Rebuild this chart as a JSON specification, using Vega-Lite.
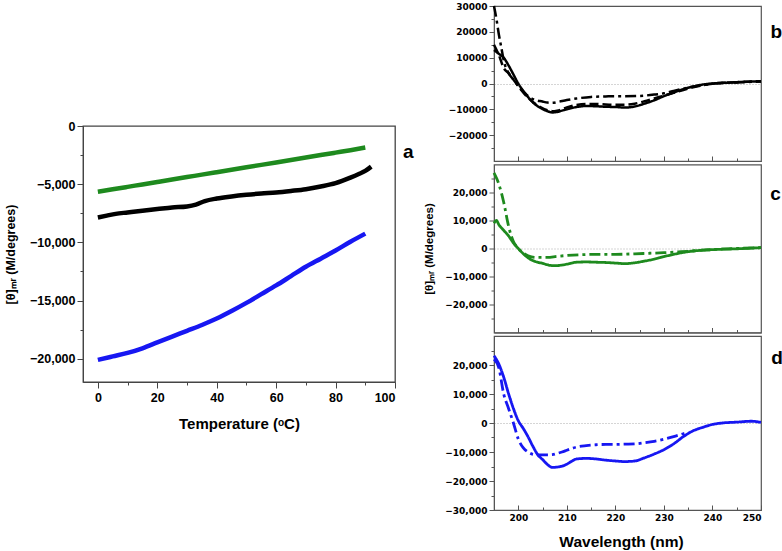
{
  "$schema": "https://vega.github.io/schema/vega-lite/v6.json",
  "background": "white",
  "padding": {"left": 3, "top": 0, "right": 0, "bottom": 0},
  "spacing": 8,
  "config": {
    "font": "Liberation Sans",
    "view": {"stroke": "#555", "strokeWidth": 1.2},
    "axis": {
      "labelFont": "Liberation Sans",
      "labelFontWeight": "bold",
      "titleFont": "Liberation Sans",
      "titleFontWeight": "bold",
      "labelColor": "#000",
      "titleColor": "#000",
      "domainColor": "#555",
      "tickColor": "#555",
      "grid": false
    },
    "title": {"font": "Liberation Sans", "fontWeight": "bold", "fontSize": 19, "color": "#000", "frame": "group"}
  },
  "datasets": {
    "tempA": [
      {"s": "b", "T": 0, "v": -7860}, {"s": "b", "T": 3, "v": -7700}, {"s": "b", "T": 6, "v": -7550}, {"s": "b", "T": 10, "v": -7430},
      {"s": "b", "T": 15, "v": -7280}, {"s": "b", "T": 20, "v": -7140}, {"s": "b", "T": 25, "v": -7000}, {"s": "b", "T": 30, "v": -6910},
      {"s": "b", "T": 33, "v": -6750}, {"s": "b", "T": 36, "v": -6450}, {"s": "b", "T": 40, "v": -6230}, {"s": "b", "T": 45, "v": -6050},
      {"s": "b", "T": 50, "v": -5910}, {"s": "b", "T": 55, "v": -5800}, {"s": "b", "T": 60, "v": -5710}, {"s": "b", "T": 65, "v": -5580},
      {"s": "b", "T": 70, "v": -5430}, {"s": "b", "T": 75, "v": -5200}, {"s": "b", "T": 80, "v": -4910}, {"s": "b", "T": 85, "v": -4430},
      {"s": "b", "T": 88, "v": -4100}, {"s": "b", "T": 90, "v": -3860}, {"s": "b", "T": 92, "v": -3490},
      {"s": "c", "T": 0, "v": -5650}, {"s": "c", "T": 5, "v": -5440}, {"s": "c", "T": 10, "v": -5230}, {"s": "c", "T": 15, "v": -5020},
      {"s": "c", "T": 20, "v": -4810}, {"s": "c", "T": 25, "v": -4600}, {"s": "c", "T": 30, "v": -4390}, {"s": "c", "T": 35, "v": -4180},
      {"s": "c", "T": 40, "v": -3970}, {"s": "c", "T": 45, "v": -3760}, {"s": "c", "T": 50, "v": -3550}, {"s": "c", "T": 55, "v": -3340},
      {"s": "c", "T": 60, "v": -3130}, {"s": "c", "T": 65, "v": -2920}, {"s": "c", "T": 70, "v": -2710}, {"s": "c", "T": 75, "v": -2500},
      {"s": "c", "T": 80, "v": -2290}, {"s": "c", "T": 85, "v": -2080}, {"s": "c", "T": 90, "v": -1850},
      {"s": "d", "T": 0, "v": -20100}, {"s": "d", "T": 5, "v": -19800}, {"s": "d", "T": 10, "v": -19500}, {"s": "d", "T": 15, "v": -19100},
      {"s": "d", "T": 20, "v": -18600}, {"s": "d", "T": 25, "v": -18100}, {"s": "d", "T": 30, "v": -17600}, {"s": "d", "T": 35, "v": -17100},
      {"s": "d", "T": 40, "v": -16550}, {"s": "d", "T": 45, "v": -15900}, {"s": "d", "T": 50, "v": -15200}, {"s": "d", "T": 55, "v": -14450},
      {"s": "d", "T": 60, "v": -13700}, {"s": "d", "T": 65, "v": -12900}, {"s": "d", "T": 70, "v": -12100}, {"s": "d", "T": 75, "v": -11400},
      {"s": "d", "T": 80, "v": -10700}, {"s": "d", "T": 85, "v": -9950}, {"s": "d", "T": 90, "v": -9250}
    ],
    "specB": [
      {"s": "trace 1", "x": 195, "y": 13000}, {"s": "trace 1", "x": 196, "y": 11500}, {"s": "trace 1", "x": 197, "y": 10000}, {"s": "trace 1", "x": 198, "y": 7000},
      {"s": "trace 1", "x": 199, "y": 3500}, {"s": "trace 1", "x": 200, "y": 0}, {"s": "trace 1", "x": 201, "y": -2800}, {"s": "trace 1", "x": 202, "y": -5200},
      {"s": "trace 1", "x": 203, "y": -7300}, {"s": "trace 1", "x": 204, "y": -8800}, {"s": "trace 1", "x": 205, "y": -9900}, {"s": "trace 1", "x": 206, "y": -10700},
      {"s": "trace 1", "x": 207, "y": -11200}, {"s": "trace 1", "x": 208, "y": -11000}, {"s": "trace 1", "x": 209, "y": -10500}, {"s": "trace 1", "x": 210, "y": -10000},
      {"s": "trace 1", "x": 211, "y": -9500}, {"s": "trace 1", "x": 212, "y": -9100}, {"s": "trace 1", "x": 214, "y": -8700}, {"s": "trace 1", "x": 216, "y": -8800},
      {"s": "trace 1", "x": 218, "y": -9000}, {"s": "trace 1", "x": 220, "y": -9100}, {"s": "trace 1", "x": 222, "y": -9300}, {"s": "trace 1", "x": 224, "y": -8900},
      {"s": "trace 1", "x": 226, "y": -7800}, {"s": "trace 1", "x": 228, "y": -6500}, {"s": "trace 1", "x": 230, "y": -4900}, {"s": "trace 1", "x": 232, "y": -3500},
      {"s": "trace 1", "x": 234, "y": -2200}, {"s": "trace 1", "x": 236, "y": -1200}, {"s": "trace 1", "x": 238, "y": -400}, {"s": "trace 1", "x": 240, "y": 0},
      {"s": "trace 1", "x": 245, "y": 500}, {"s": "trace 1", "x": 250, "y": 900},
      {"s": "trace 2", "x": 195, "y": 15000}, {"s": "trace 2", "x": 196, "y": 11000}, {"s": "trace 2", "x": 197, "y": 6000}, {"s": "trace 2", "x": 198, "y": 4000},
      {"s": "trace 2", "x": 199, "y": 1500}, {"s": "trace 2", "x": 200, "y": -1000}, {"s": "trace 2", "x": 202, "y": -5500}, {"s": "trace 2", "x": 204, "y": -8500},
      {"s": "trace 2", "x": 206, "y": -10300}, {"s": "trace 2", "x": 207, "y": -10700}, {"s": "trace 2", "x": 208, "y": -10500}, {"s": "trace 2", "x": 210, "y": -9300},
      {"s": "trace 2", "x": 212, "y": -8300}, {"s": "trace 2", "x": 214, "y": -7900}, {"s": "trace 2", "x": 216, "y": -7900}, {"s": "trace 2", "x": 218, "y": -8100},
      {"s": "trace 2", "x": 220, "y": -8200}, {"s": "trace 2", "x": 222, "y": -8200}, {"s": "trace 2", "x": 224, "y": -7800}, {"s": "trace 2", "x": 226, "y": -6900},
      {"s": "trace 2", "x": 228, "y": -5800}, {"s": "trace 2", "x": 230, "y": -4700}, {"s": "trace 2", "x": 232, "y": -3600}, {"s": "trace 2", "x": 234, "y": -2500},
      {"s": "trace 2", "x": 236, "y": -1500}, {"s": "trace 2", "x": 238, "y": -700}, {"s": "trace 2", "x": 240, "y": -100}, {"s": "trace 2", "x": 245, "y": 500},
      {"s": "trace 2", "x": 250, "y": 900},
      {"s": "trace 3", "x": 195, "y": 30000}, {"s": "trace 3", "x": 195.5, "y": 25000}, {"s": "trace 3", "x": 196, "y": 19000}, {"s": "trace 3", "x": 196.5, "y": 14000},
      {"s": "trace 3", "x": 197, "y": 9000}, {"s": "trace 3", "x": 198, "y": 4000}, {"s": "trace 3", "x": 199, "y": 1500}, {"s": "trace 3", "x": 200, "y": -1000},
      {"s": "trace 3", "x": 201, "y": -3000}, {"s": "trace 3", "x": 202, "y": -4800}, {"s": "trace 3", "x": 203, "y": -6000}, {"s": "trace 3", "x": 205, "y": -7000},
      {"s": "trace 3", "x": 206, "y": -7400}, {"s": "trace 3", "x": 207, "y": -7500}, {"s": "trace 3", "x": 208, "y": -7200}, {"s": "trace 3", "x": 210, "y": -6400},
      {"s": "trace 3", "x": 212, "y": -5800}, {"s": "trace 3", "x": 215, "y": -5200}, {"s": "trace 3", "x": 218, "y": -5000}, {"s": "trace 3", "x": 220, "y": -4900},
      {"s": "trace 3", "x": 222, "y": -4900}, {"s": "trace 3", "x": 225, "y": -4800}, {"s": "trace 3", "x": 228, "y": -4300}, {"s": "trace 3", "x": 230, "y": -3800},
      {"s": "trace 3", "x": 232, "y": -2900}, {"s": "trace 3", "x": 234, "y": -2000}, {"s": "trace 3", "x": 236, "y": -1200}, {"s": "trace 3", "x": 238, "y": -600},
      {"s": "trace 3", "x": 240, "y": -100}, {"s": "trace 3", "x": 245, "y": 400}, {"s": "trace 3", "x": 250, "y": 800}
    ],
    "specC": [
      {"s": "trace 1", "x": 195, "y": 9000}, {"s": "trace 1", "x": 195.5, "y": 10000}, {"s": "trace 1", "x": 196, "y": 8500}, {"s": "trace 1", "x": 197, "y": 6500},
      {"s": "trace 1", "x": 198, "y": 4500}, {"s": "trace 1", "x": 199, "y": 2000}, {"s": "trace 1", "x": 200, "y": 0}, {"s": "trace 1", "x": 201, "y": -1800},
      {"s": "trace 1", "x": 202, "y": -3300}, {"s": "trace 1", "x": 203, "y": -4300}, {"s": "trace 1", "x": 204, "y": -4900}, {"s": "trace 1", "x": 205, "y": -5300},
      {"s": "trace 1", "x": 206, "y": -5800}, {"s": "trace 1", "x": 207, "y": -6100}, {"s": "trace 1", "x": 208, "y": -6100}, {"s": "trace 1", "x": 209, "y": -5900},
      {"s": "trace 1", "x": 210, "y": -5600}, {"s": "trace 1", "x": 211, "y": -5200}, {"s": "trace 1", "x": 212, "y": -4900}, {"s": "trace 1", "x": 214, "y": -4800},
      {"s": "trace 1", "x": 216, "y": -4900}, {"s": "trace 1", "x": 218, "y": -5000}, {"s": "trace 1", "x": 220, "y": -5200}, {"s": "trace 1", "x": 222, "y": -5400},
      {"s": "trace 1", "x": 224, "y": -5100}, {"s": "trace 1", "x": 226, "y": -4500}, {"s": "trace 1", "x": 228, "y": -3800}, {"s": "trace 1", "x": 230, "y": -2900},
      {"s": "trace 1", "x": 232, "y": -2100}, {"s": "trace 1", "x": 234, "y": -1400}, {"s": "trace 1", "x": 236, "y": -900}, {"s": "trace 1", "x": 238, "y": -600},
      {"s": "trace 1", "x": 240, "y": -400}, {"s": "trace 1", "x": 245, "y": -100}, {"s": "trace 1", "x": 250, "y": 300},
      {"s": "trace 3", "x": 195, "y": 27000}, {"s": "trace 3", "x": 196, "y": 23000}, {"s": "trace 3", "x": 197, "y": 16500}, {"s": "trace 3", "x": 198, "y": 8000},
      {"s": "trace 3", "x": 198.5, "y": 4800}, {"s": "trace 3", "x": 199, "y": 2500}, {"s": "trace 3", "x": 200, "y": 0}, {"s": "trace 3", "x": 201, "y": -1600},
      {"s": "trace 3", "x": 202, "y": -2600}, {"s": "trace 3", "x": 203, "y": -3100}, {"s": "trace 3", "x": 204, "y": -3200}, {"s": "trace 3", "x": 206, "y": -3200},
      {"s": "trace 3", "x": 208, "y": -2800}, {"s": "trace 3", "x": 210, "y": -2500}, {"s": "trace 3", "x": 213, "y": -2200}, {"s": "trace 3", "x": 216, "y": -2100},
      {"s": "trace 3", "x": 220, "y": -2100}, {"s": "trace 3", "x": 224, "y": -1900}, {"s": "trace 3", "x": 227, "y": -1700}, {"s": "trace 3", "x": 230, "y": -1500},
      {"s": "trace 3", "x": 233, "y": -1200}, {"s": "trace 3", "x": 235, "y": -1000}, {"s": "trace 3", "x": 238, "y": -600}, {"s": "trace 3", "x": 240, "y": -400},
      {"s": "trace 3", "x": 245, "y": 0}, {"s": "trace 3", "x": 250, "y": 300}
    ],
    "specD": [
      {"s": "trace 1", "x": 195, "y": 23200}, {"s": "trace 1", "x": 196, "y": 20300}, {"s": "trace 1", "x": 197, "y": 15800}, {"s": "trace 1", "x": 198, "y": 10100},
      {"s": "trace 1", "x": 199, "y": 5000}, {"s": "trace 1", "x": 200, "y": 800}, {"s": "trace 1", "x": 201, "y": -1800}, {"s": "trace 1", "x": 202, "y": -4700},
      {"s": "trace 1", "x": 203, "y": -8000}, {"s": "trace 1", "x": 204, "y": -10900}, {"s": "trace 1", "x": 205, "y": -12600}, {"s": "trace 1", "x": 206, "y": -14300},
      {"s": "trace 1", "x": 207, "y": -15300}, {"s": "trace 1", "x": 208, "y": -15200}, {"s": "trace 1", "x": 209, "y": -14900}, {"s": "trace 1", "x": 210, "y": -14200},
      {"s": "trace 1", "x": 211, "y": -13200}, {"s": "trace 1", "x": 212, "y": -12400}, {"s": "trace 1", "x": 214, "y": -12200}, {"s": "trace 1", "x": 216, "y": -12400},
      {"s": "trace 1", "x": 218, "y": -12800}, {"s": "trace 1", "x": 220, "y": -13100}, {"s": "trace 1", "x": 222, "y": -13300}, {"s": "trace 1", "x": 224, "y": -13100},
      {"s": "trace 1", "x": 226, "y": -12000}, {"s": "trace 1", "x": 228, "y": -10700}, {"s": "trace 1", "x": 230, "y": -9200}, {"s": "trace 1", "x": 232, "y": -7200},
      {"s": "trace 1", "x": 234, "y": -4700}, {"s": "trace 1", "x": 236, "y": -2700}, {"s": "trace 1", "x": 238, "y": -1500}, {"s": "trace 1", "x": 240, "y": -500},
      {"s": "trace 1", "x": 242, "y": 0}, {"s": "trace 1", "x": 245, "y": 300}, {"s": "trace 1", "x": 248, "y": 600}, {"s": "trace 1", "x": 250, "y": 200},
      {"s": "trace 3", "x": 195, "y": 22000}, {"s": "trace 3", "x": 196, "y": 19000}, {"s": "trace 3", "x": 197, "y": 10000}, {"s": "trace 3", "x": 198, "y": 5000},
      {"s": "trace 3", "x": 199, "y": 0}, {"s": "trace 3", "x": 200, "y": -5500}, {"s": "trace 3", "x": 201, "y": -8500}, {"s": "trace 3", "x": 202, "y": -10000},
      {"s": "trace 3", "x": 203, "y": -10800}, {"s": "trace 3", "x": 204, "y": -11000}, {"s": "trace 3", "x": 206, "y": -11000}, {"s": "trace 3", "x": 207, "y": -10900},
      {"s": "trace 3", "x": 208, "y": -10500}, {"s": "trace 3", "x": 209, "y": -10000}, {"s": "trace 3", "x": 210, "y": -9400}, {"s": "trace 3", "x": 211, "y": -8800},
      {"s": "trace 3", "x": 212, "y": -8300}, {"s": "trace 3", "x": 214, "y": -7800}, {"s": "trace 3", "x": 216, "y": -7500}, {"s": "trace 3", "x": 218, "y": -7400},
      {"s": "trace 3", "x": 220, "y": -7400}, {"s": "trace 3", "x": 222, "y": -7300}, {"s": "trace 3", "x": 224, "y": -7200}, {"s": "trace 3", "x": 226, "y": -6800},
      {"s": "trace 3", "x": 228, "y": -6300}, {"s": "trace 3", "x": 230, "y": -5600}, {"s": "trace 3", "x": 232, "y": -4700}, {"s": "trace 3", "x": 234, "y": -3700},
      {"s": "trace 3", "x": 235, "y": -3200}
    ]
  },
  "hconcat": [
    {
      "spacing": 0,
      "vconcat": [
        {
          "width": 312, "height": 113,
          "data": {"values": []},
          "mark": {"type": "point"},
          "view": {"stroke": null}
        },
        {
          "width": 312, "height": 256,
          "data": {"name": "tempA"},
          "view": {"stroke": "#444", "strokeWidth": 1.3},
          "title": {"text": "a", "orient": "right", "angle": 0, "anchor": "start", "align": "left", "baseline": "alphabetic", "offset": -3, "dy": 32},
          "mark": {"type": "line", "strokeWidth": 4.5, "interpolate": "monotone"},
          "encoding": {
            "x": {
              "field": "T", "type": "quantitative",
              "scale": {"domain": [-5, 100], "nice": false, "zero": false},
              "axis": {
                "title": "Temperature  (ᵒC)", "titleFontSize": 15, "titlePadding": 13,
                "values": [0, 10, 20, 30, 40, 50, 60, 70, 80, 90, 100],
                "format": "d",
                "labelExpr": "datum.value % 20 === 0 ? datum.label : ''",
                "labelFontSize": 12.5, "labelPadding": 3,
                "tickSize": {"condition": {"test": "datum.value % 20 !== 0", "value": 3}, "value": 6},
                "domainColor": "#444", "tickColor": "#444"
              }
            },
            "y": {
              "field": "v", "type": "quantitative",
              "scale": {"domain": [-22000, 0], "nice": false, "zero": false},
              "axis": {
                "title": "[θ]ₘᵣ  (M/degrees)", "titleFontSize": 12.5, "titlePadding": 12,
                "values": [0, -2500, -5000, -7500, -10000, -12500, -15000, -17500, -20000],
                "format": ",d",
                "labelExpr": "datum.value % 5000 === 0 ? datum.label : ''",
                "labelFontSize": 12.5, "labelPadding": 2,
                "tickSize": {"condition": {"test": "datum.value % 5000 !== 0", "value": 3}, "value": 6},
                "domainColor": "#444", "tickColor": "#444"
              }
            },
            "color": {
              "field": "s", "type": "nominal", "legend": null,
              "scale": {"domain": ["b", "c", "d"], "range": ["#000000", "#1e8a1e", "#1717f2"]}
            }
          }
        }
      ]
    },
    {
      "spacing": 3.5,
      "bounds": "flush",
      "vconcat": [
        {
          "width": 267, "height": 155,
          "data": {"name": "specB"},
          "title": {"text": "b", "orient": "right", "angle": 0, "anchor": "start", "align": "left", "baseline": "alphabetic", "offset": -7, "dy": 32},
          "mark": {"type": "line", "strokeWidth": 2.5, "interpolate": "monotone", "color": "#000"},
          "encoding": {
            "x": {
              "field": "x", "type": "quantitative",
              "scale": {"domain": [195, 250], "nice": false, "zero": false},
              "axis": {"title": null, "labels": false, "values": [200, 205, 210, 215, 220, 225, 230, 235, 240, 245],
                "tickSize": {"condition": {"test": "datum.value % 10 !== 0", "value": -3}, "value": -5}}
            },
            "y": {
              "field": "y", "type": "quantitative",
              "scale": {"domain": [-30000, 30000], "nice": false, "zero": false},
              "axis": {
                "title": null,
                "values": [30000, 25000, 20000, 15000, 10000, 5000, 0, -5000, -10000, -15000, -20000, -25000],
                "format": "d",
                "labelExpr": "datum.value % 10000 === 0 ? datum.label : ''",
                "labelFont": "DejaVu Sans", "labelFontSize": 9, "labelPadding": 2,
                "tickSize": {"condition": {"test": "datum.value % 10000 !== 0", "value": 3}, "value": 5},
                "grid": true, "gridColor": "#aaa", "gridDash": [1, 2], "gridWidth": 1,
                "gridOpacity": {"condition": {"test": "datum.value === 0", "value": 1}, "value": 0}
              }
            },
            "strokeDash": {
              "field": "s", "type": "nominal", "legend": null,
              "scale": {"domain": ["trace 1", "trace 2", "trace 3"], "range": [[1, 0], [9, 4], [11, 4, 3, 4]]}
            }
          }
        },
        {
          "width": 267, "height": 168,
          "data": {"name": "specC"},
          "title": {"text": "c", "orient": "right", "angle": 0, "anchor": "start", "align": "left", "baseline": "alphabetic", "offset": -7, "dy": 35},
          "mark": {"type": "line", "strokeWidth": 2.8, "interpolate": "monotone", "color": "#1e8a1e"},
          "encoding": {
            "x": {
              "field": "x", "type": "quantitative",
              "scale": {"domain": [195, 250], "nice": false, "zero": false},
              "axis": {"title": null, "labels": false, "values": [200, 205, 210, 215, 220, 225, 230, 235, 240, 245],
                "tickSize": {"condition": {"test": "datum.value % 10 !== 0", "value": -3}, "value": -5}}
            },
            "y": {
              "field": "y", "type": "quantitative",
              "scale": {"domain": [-30000, 30000], "nice": false, "zero": false},
              "axis": {
                "title": "[θ]ₘᵣ  (M/degrees)", "titleFontSize": 11.5, "titlePadding": 10,
                "values": [25000, 20000, 15000, 10000, 5000, 0, -5000, -10000, -15000, -20000, -25000],
                "format": ",d",
                "labelExpr": "datum.value % 10000 === 0 ? datum.label : ''",
                "labelFont": "DejaVu Sans", "labelFontSize": 9, "labelPadding": 2,
                "tickSize": {"condition": {"test": "datum.value % 10000 !== 0", "value": 3}, "value": 5},
                "grid": true, "gridColor": "#aaa", "gridDash": [1, 2], "gridWidth": 1,
                "gridOpacity": {"condition": {"test": "datum.value === 0", "value": 1}, "value": 0}
              }
            },
            "strokeDash": {
              "field": "s", "type": "nominal", "legend": null,
              "scale": {"domain": ["trace 1", "trace 3"], "range": [[1, 0], [11, 4, 3, 4]]}
            }
          }
        },
        {
          "width": 267, "height": 174,
          "data": {"name": "specD"},
          "title": {"text": "d", "orient": "right", "angle": 0, "anchor": "start", "align": "left", "baseline": "alphabetic", "offset": -7, "dy": 28},
          "mark": {"type": "line", "strokeWidth": 2.8, "interpolate": "monotone", "color": "#1717f2"},
          "encoding": {
            "x": {
              "field": "x", "type": "quantitative",
              "scale": {"domain": [195, 250], "nice": false, "zero": false},
              "axis": {
                "title": "Wavelength (nm)", "titleFontSize": 15.5, "titlePadding": 12, "titleX": 127,
                "values": [200, 205, 210, 215, 220, 225, 230, 235, 240, 245, 250],
                "format": "d",
                "labelExpr": "datum.value % 10 === 0 ? datum.label : ''",
                "labelFont": "DejaVu Sans", "labelFontSize": 9, "labelPadding": 8,
                "tickSize": {"condition": {"test": "datum.value % 10 !== 0", "value": -3}, "value": -5}
              }
            },
            "y": {
              "field": "y", "type": "quantitative",
              "scale": {"domain": [-30000, 30000], "nice": false, "zero": false},
              "axis": {
                "title": null,
                "values": [25000, 20000, 15000, 10000, 5000, 0, -5000, -10000, -15000, -20000, -25000, -30000],
                "format": ",d",
                "labelExpr": "datum.value % 10000 === 0 ? datum.label : ''",
                "labelFont": "DejaVu Sans", "labelFontSize": 9, "labelPadding": 2,
                "tickSize": {"condition": {"test": "datum.value % 10000 !== 0", "value": 3}, "value": 5},
                "grid": true, "gridColor": "#aaa", "gridDash": [1, 2], "gridWidth": 1,
                "gridOpacity": {"condition": {"test": "datum.value === 0", "value": 1}, "value": 0}
              }
            },
            "strokeDash": {
              "field": "s", "type": "nominal", "legend": null,
              "scale": {"domain": ["trace 1", "trace 3"], "range": [[1, 0], [11, 4, 3, 4]]}
            }
          }
        }
      ]
    }
  ]
}
